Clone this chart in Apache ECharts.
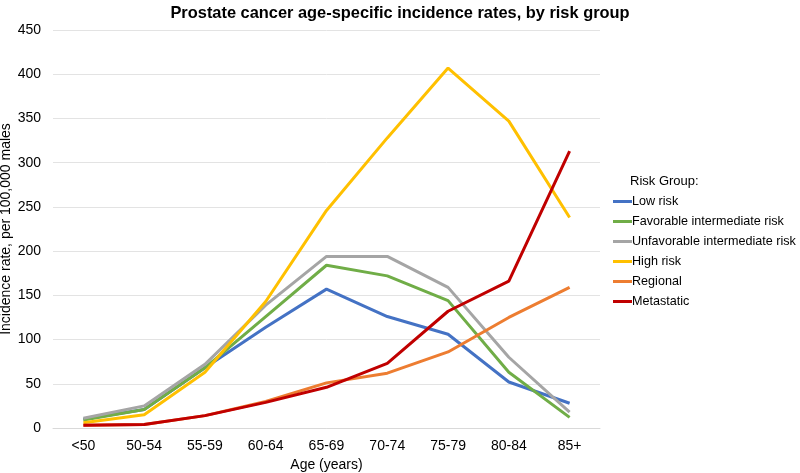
<!DOCTYPE html>
<html>
<head>
<meta charset="utf-8">
<script src="https://cdn.jsdelivr.net/npm/echarts@6/dist/echarts.min.js"></script>
<style>
  html, body { margin: 0; padding: 0; background: #fff; }
  #main { width: 800px; height: 473px; }
</style>
</head>
<body>
<div id="main"></div>
<script>
var ages = ['<50', '50-54', '55-59', '60-64', '65-69', '70-74', '75-79', '80-84', '85+'];

var lowRisk = [10, 21, 68, 114, 157, 126, 106, 52, 28];
var favorable = [9, 21, 68, 126, 184, 172, 144, 63, 12];
var unfavorable = [11, 25, 72, 139, 194, 194, 159, 80, 18];
var highRisk = [6, 15, 63, 143, 246, 328, 407, 347, 238];
var regional = [3, 4, 14, 30, 51, 62, 86, 125, 159];
var metastatic = [3, 4, 14, 29, 46, 73, 132, 166, 313];

var seriesNames = ['Low risk', 'Favorable intermediate risk', 'Unfavorable intermediate risk',
    'High risk', 'Regional', 'Metastatic'];
var seriesData = [lowRisk, favorable, unfavorable, highRisk, regional, metastatic];
var colors = ['#4472C4', '#70AD47', '#A5A5A5', '#FFC000', '#ED7D31', '#C00000'];

var font = 'Liberation Sans, Arial, sans-serif';
var myChart = echarts.init(document.getElementById('main'));

var series = seriesNames.map(function (name, i) {
    return {
        name: name,
        type: 'line',
        data: seriesData[i],
        symbol: 'none',
        smooth: false,
        lineStyle: { width: 3, color: colors[i] },
        itemStyle: { color: colors[i] }
    };
});

var option = {
    animation: false,
    title: [
        {
            text: 'Prostate cancer age-specific incidence rates, by risk group',
            left: 'center',
            top: 0,
            textStyle: { fontFamily: font, fontSize: 16.4, fontWeight: 'bold', color: '#000' }
        },
        {
            text: 'Risk Group:',
            left: 625,
            top: 170,
            textStyle: { fontFamily: font, fontSize: 13, fontWeight: 'normal', color: '#000' }
        }
    ],
    legend: {
        orient: 'vertical',
        left: 613,
        top: 195,
        padding: 0,
        icon: 'rect',
        itemWidth: 19,
        itemHeight: 3,
        itemGap: 7,
        textStyle: { fontFamily: font, fontSize: 12.6, color: '#000', padding: [0, 0, 0, -5] },
        data: seriesNames
    },
    grid: { left: 53, right: 200, top: 30, bottom: 45, outerBoundsMode: 'none', containLabel: false },
    xAxis: {
        type: 'category',
        data: ages,
        boundaryGap: true,
        name: 'Age (years)',
        nameLocation: 'middle',
        nameGap: 30,
        nameMoveOverlap: false,
        nameTextStyle: { fontFamily: font, fontSize: 14, color: '#000' },
        axisLine: { lineStyle: { color: '#D9D9D9', width: 1 } },
        axisTick: { show: false },
        axisLabel: { fontFamily: font, fontSize: 14, color: '#000', margin: 11 }
    },
    yAxis: {
        type: 'value',
        min: 0,
        max: 450,
        interval: 50,
        name: 'Incidence rate, per 100,000 males',
        nameLocation: 'middle',
        nameGap: 40,
        nameMoveOverlap: false,
        nameTextStyle: { fontFamily: font, fontSize: 14, color: '#000' },
        axisLine: { show: false },
        axisTick: { show: false },
        axisLabel: { fontFamily: font, fontSize: 14, color: '#000', margin: 12 },
        splitLine: { lineStyle: { color: '#E3E3E3', width: 1 } }
    },
    series: series
};

myChart.setOption(option);
</script>
</body>
</html>
